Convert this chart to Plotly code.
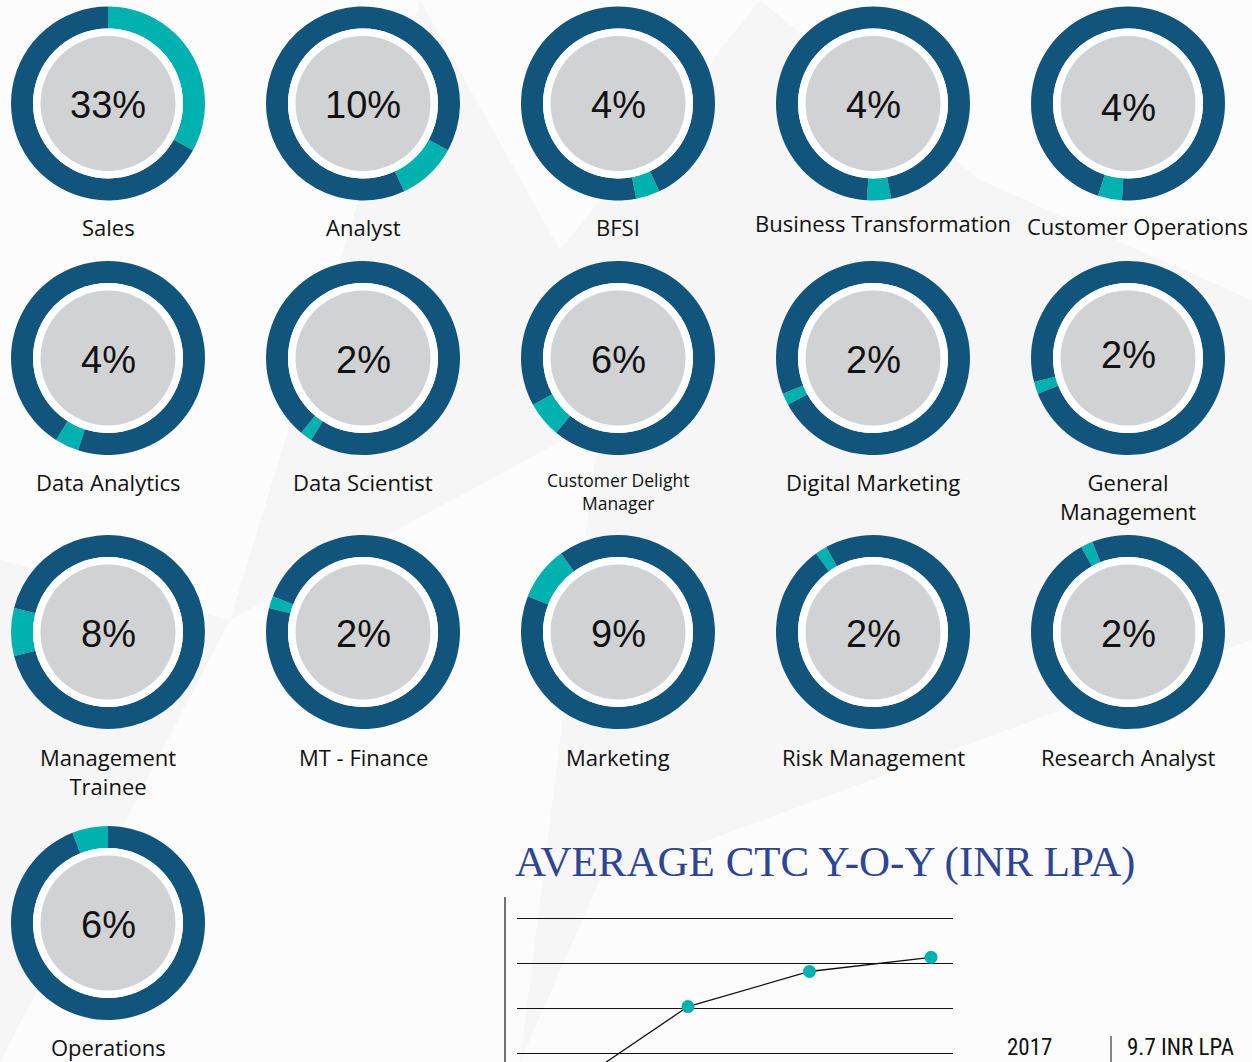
import plotly.graph_objects as go

W, H = 1252, 1062

# ---------------- data ----------------
roles = ["Sales", "Analyst", "BFSI", "Business Transformation", "Customer Operations",
         "Data Analytics", "Data Scientist", "Customer Delight<br>Manager", "Digital Marketing",
         "General<br>Management", "Management<br>Trainee", "MT - Finance", "Marketing",
         "Risk Management", "Research Analyst", "Operations"]
shares = [33, 10, 4, 4, 4, 4, 2, 6, 2, 2, 8, 2, 9, 2, 2, 6]

ctc_years = [2014, 2015, 2016, 2017]
ctc_values = [5.34, 8.07, 9.23, 9.7]
ctc_title = "AVERAGE CTC Y-O-Y (INR LPA)"
ctc_note_year = "2017"
ctc_note_value = "9.7 INR LPA"

# ---------------- style / layout ----------------
BLUE = "#12557c"
TEAL = "#00b2af"
GRAY = "#d1d2d4"
BG = "#f6f6f6"

col_x = [108, 363, 618, 873, 1128]
row_y = [103.5, 358, 632, 923]
R_OUT, R_GAP, R_IN = 97, 75, 67.5
label_y = [227, 482, 757, 1047]
pct_y_off = 2
# small per-item nudges (label dx, label dy, pct dy) as in the original artwork
label_nudge = {3: (10, -4, 0), 4: (9, -1, 2), 9: (0, 0, -5)}


def px(x):
    return x / W


def py(y):
    return 1 - y / H


fig = go.Figure()
shapes = []
annotations = []

# faint background facets
facets = [
    [(0, 0), (420, 0), (230, 620), (0, 560)],
    [(420, 0), (760, 0), (560, 250)],
    [(760, 0), (1252, 0), (1252, 300), (980, 180)],
    [(230, 620), (600, 420), (520, 1062), (0, 1062)],
    [(600, 880), (1252, 640), (1252, 1062), (520, 1062)],
]
for poly in facets:
    path = "M " + " L ".join(f"{px(x):.4f},{py(y):.4f}" for x, y in poly) + " Z"
    shapes.append(dict(type="path", path=path, xref="paper", yref="paper",
                       fillcolor="#fcfcfc", line=dict(width=0), layer="below"))

cum = 0
for i, (role, s) in enumerate(zip(roles, shares)):
    r, c = divmod(i, 5)
    cx, cy = col_x[c], row_y[r]
    ldx, ldy, pdy = label_nudge.get(i, (0, 0, 0))
    fig.add_trace(go.Pie(
        values=[s, 100 - s],
        labels=[role, "Other"],
        marker=dict(colors=[TEAL, BLUE], line=dict(width=0)),
        hole=R_GAP / R_OUT,
        sort=False,
        direction="clockwise",
        rotation=cum * 3.6,
        textinfo="none",
        hoverinfo="label+value",
        showlegend=False,
        domain=dict(x=[px(cx - R_OUT), px(cx + R_OUT)], y=[py(cy + R_OUT), py(cy - R_OUT)]),
    ))
    cum += s
    shapes.append(dict(type="circle", xref="paper", yref="paper",
                       x0=px(cx - R_GAP), x1=px(cx + R_GAP), y0=py(cy + R_GAP), y1=py(cy - R_GAP),
                       fillcolor="white", line=dict(width=0), layer="above"))
    shapes.append(dict(type="circle", xref="paper", yref="paper",
                       x0=px(cx - R_IN), x1=px(cx + R_IN), y0=py(cy + R_IN), y1=py(cy - R_IN),
                       fillcolor=GRAY, line=dict(width=0), layer="above"))
    annotations.append(dict(text=f"{s}%", x=px(cx), y=py(cy + pct_y_off + pdy), xref="paper", yref="paper",
                            showarrow=False, xanchor="center", yanchor="middle",
                            font=dict(family="Liberation Sans, Arial", size=38, color="#111111")))
    small = "Delight" in role
    two = "<br>" in role
    ly = label_y[r] + (14 if two and not small else 0)
    if small:
        ly = label_y[r] + 9
    annotations.append(dict(text=role, x=px(cx + ldx), y=py(ly + ldy), xref="paper", yref="paper",
                            showarrow=False, xanchor="center", yanchor="middle",
                            font=dict(family="Open Sans, Noto Sans", size=17.5 if small else 22,
                                      color="#111111")))

# ---------------- CTC line chart ----------------
fig.add_trace(go.Scatter(
    x=ctc_years, y=ctc_values, mode="lines+markers",
    line=dict(color="#111111", width=1.3),
    marker=dict(color=TEAL, size=13),
    showlegend=False, xaxis="x", yaxis="y", cliponaxis=True,
))

shapes.append(dict(type="line", xref="paper", yref="paper",
                   x0=px(505), x1=px(505), y0=py(897), y1=py(1062),
                   line=dict(color="#444444", width=1.5)))

annotations.append(dict(text=ctc_title, x=px(825), y=py(862), xref="paper", yref="paper",
                        showarrow=False, xanchor="center", yanchor="middle",
                        font=dict(family="Liberation Serif, DejaVu Serif", size=43, color="#2e4596")))
annotations.append(dict(text=ctc_note_year, x=px(1029), y=py(1047), xref="paper", yref="paper",
                        showarrow=False, xanchor="center", yanchor="middle",
                        font=dict(family="Liberation Sans Narrow, Roboto Condensed, Liberation Sans",
                                  size=23, color="#111111")))
annotations.append(dict(text=ctc_note_value, x=px(1180), y=py(1047), xref="paper", yref="paper",
                        showarrow=False, xanchor="center", yanchor="middle",
                        font=dict(family="Liberation Sans Narrow, Roboto Condensed, Liberation Sans",
                                  size=23, color="#111111")))
shapes.append(dict(type="line", xref="paper", yref="paper",
                   x0=px(1111), x1=px(1111), y0=py(1036), y1=py(1062),
                   line=dict(color="#333333", width=1.2)))

fig.update_layout(
    width=W, height=H,
    margin=dict(l=0, r=0, t=0, b=0),
    paper_bgcolor=BG,
    plot_bgcolor="rgba(0,0,0,0)",
    shapes=shapes,
    annotations=annotations,
    xaxis=dict(domain=[px(517), px(953)], range=[2013.593, 2017.181], showgrid=False,
               zeroline=False, showticklabels=False, showline=False, fixedrange=True),
    yaxis=dict(domain=[0, py(897)], range=[6.235, 11.695], tick0=6.5, dtick=1.5,
               showgrid=True, gridcolor="#111111", gridwidth=1.3,
               zeroline=False, showticklabels=False, showline=False, fixedrange=True),
)

fig.write_html("out.html", config={"displayModeBar": False},
               post_script="document.body.style.margin='0';document.body.style.overflow='hidden';")
